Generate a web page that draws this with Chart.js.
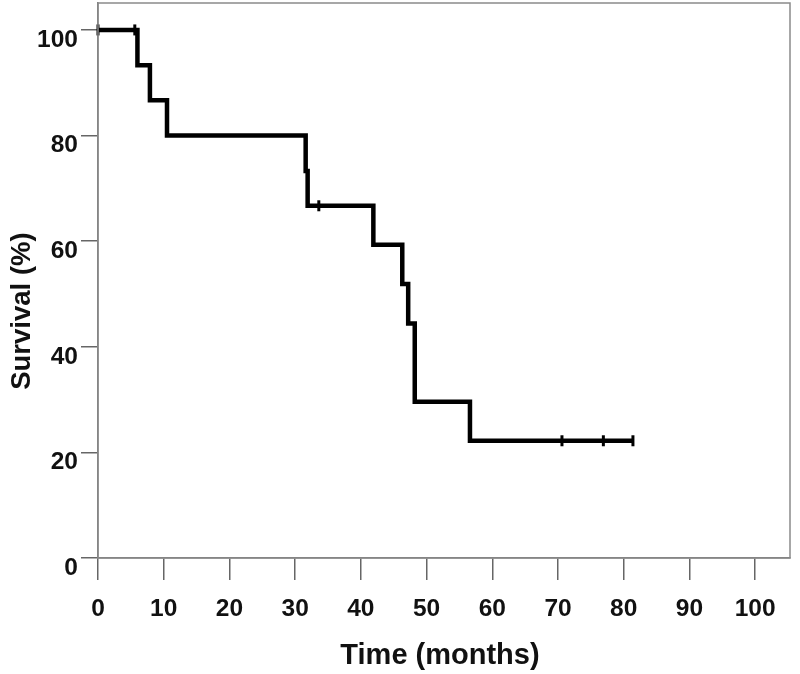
<!DOCTYPE html>
<html>
<head>
<meta charset="utf-8">
<script src="https://cdn.jsdelivr.net/npm/chart.js@4"></script>
<style>
  html, body { margin: 0; padding: 0; background: #fff; }
  canvas { display: block; }
</style>
</head>
<body>
<canvas id="c" width="800" height="674"></canvas>
<script>
// Kaplan-Meier step curve (time in months, survival %)
const eventTimes = [0, 6.0, 7.9, 10.5, 31.6, 31.9, 41.9, 46.3, 47.2, 48.2, 56.6, 81.4];
const survival   = [100, 93.3, 86.7, 80.0, 73.3, 66.7, 59.3, 51.9, 44.4, 29.6, 22.2, 22.2];
// Censored observations
const censorTimes  = [0, 5.6, 33.6, 70.6, 76.9, 81.4];
const censorValues = [100, 100, 66.7, 22.2, 22.2, 22.2];
// Tick labels
const xTickValues = [0, 10, 20, 30, 40, 50, 60, 70, 80, 90, 100];
const yTickValues = [0, 20, 40, 60, 80, 100];

const tickFont = { family: 'Liberation Sans, Arial, sans-serif', size: 24.5, weight: 'bold' };
const xTitleFont = { family: 'Liberation Sans, Arial, sans-serif', size: 29, weight: 'bold' };
const yTitleFont = { family: 'Liberation Sans, Arial, sans-serif', size: 27.5, weight: 'bold' };

const framePlugin = {
  id: 'frame',
  afterDraw(chart) {
    const { ctx, chartArea: a } = chart;
    ctx.save();
    ctx.strokeStyle = '#8a8a8a';
    ctx.lineWidth = 1.5;
    ctx.strokeRect(a.left, a.top, a.right - a.left, a.bottom - a.top);
    ctx.restore();
  }
};

new Chart(document.getElementById('c'), {
  type: 'scatter',
  data: {
    datasets: [
      {
        label: 'Survival',
        data: eventTimes.map((t, i) => ({ x: t, y: survival[i] })),
        showLine: true,
        stepped: 'before',
        borderColor: '#000',
        borderWidth: 4.5,
        pointRadius: 0,
        fill: false,
        clip: false
      },
      {
        label: 'Censored',
        data: censorTimes.map((t, i) => ({ x: t, y: censorValues[i] })),
        showLine: false,
        pointStyle: 'line',
        rotation: 90,
        pointRadius: 5.5,
        borderColor: '#000',
        borderWidth: 3,
        clip: false
      }
    ]
  },
  options: {
    responsive: false,
    animation: false,
    layout: { autoPadding: false, padding: { top: 3, right: 10, left: 0, bottom: 0 } },
    plugins: { legend: { display: false }, tooltip: { enabled: false } },
    scales: {
      x: {
        type: 'linear',
        min: 0,
        max: 105.3,
        afterBuildTicks: s => { s.ticks = xTickValues.map(v => ({ value: v })); },
        afterFit: s => { s.height = 116; s.paddingRight = 0; s.paddingLeft = 0; },
        ticks: { font: tickFont, color: '#111', padding: 15, maxRotation: 0, autoSkip: false },
        grid: { display: true, drawOnChartArea: false, drawTicks: true, tickLength: 22, color: '#666', lineWidth: 1.5 },
        border: { display: true, color: '#777', width: 1.5 },
        title: { display: true, text: 'Time (months) ', font: xTitleFont, color: '#111', padding: { top: 0, bottom: 1 } }
      },
      y: {
        type: 'linear',
        min: 0,
        max: 105.1,
        afterBuildTicks: s => { s.ticks = yTickValues.map(v => ({ value: v })); },
        afterFit: s => { s.width = 98; s.paddingTop = 0; s.paddingBottom = 0; },
        ticks: { font: tickFont, color: '#111', padding: 3, labelOffset: 10, autoSkip: false },
        grid: { display: true, drawOnChartArea: false, drawTicks: true, tickLength: 17, color: '#666', lineWidth: 1.5 },
        border: { display: true, color: '#777', width: 1.5 },
        title: { display: true, text: 'Survival (%)        ', font: yTitleFont, color: '#111', padding: { top: 6, bottom: 0 } }
      }
    }
  },
  plugins: [framePlugin]
});
</script>
</body>
</html>
